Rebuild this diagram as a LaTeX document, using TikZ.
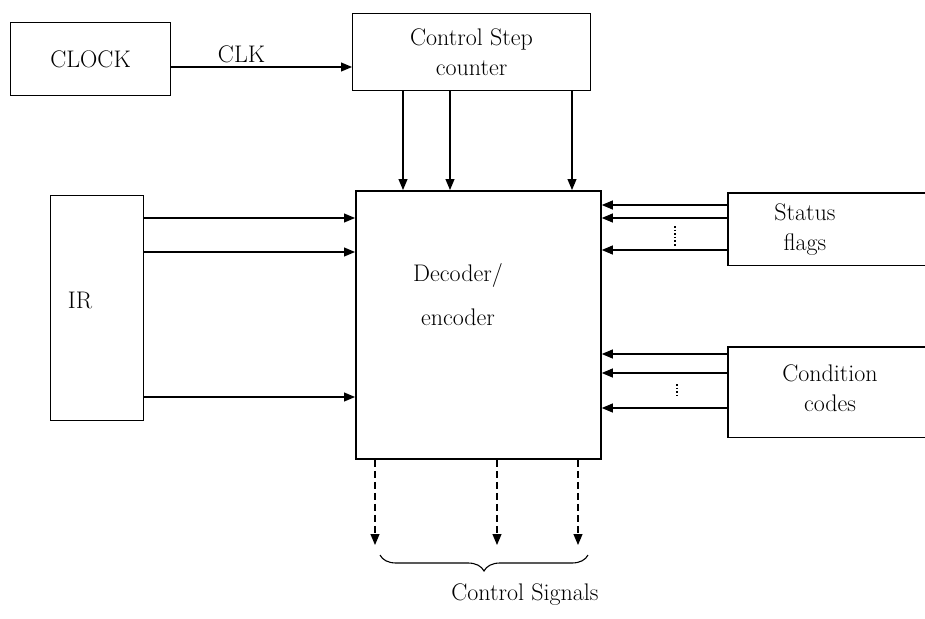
\documentclass[tikz,border=0pt]{standalone}
\usetikzlibrary{arrows.meta,decorations.pathreplacing}
\begin{document}
\begin{tikzpicture}[x=1pt,y=-1pt,
  blk/.style={draw,line width=1.1pt,inner sep=0pt,anchor=north west},
  lbl/.style={font=\fontsize{24}{30}\selectfont,align=center},
  arr/.style={-{Triangle[length=11pt,width=9pt]},line width=1.1pt},
  darr/.style={-{Triangle[length=11pt,width=9pt]},line width=1.1pt,dash pattern=on 7pt off 4pt},
  dots/.style={dotted,line width=1.6pt}]
\useasboundingbox (0,0) rectangle (925,618);
% boxes
\node[blk,minimum width=160pt,minimum height=73pt] (clock) at (10,22) {};
\node[lbl] at (clock.center) {CLOCK};
\node[blk,minimum width=238pt,minimum height=77pt] (csc) at (352,13) {};
\node[lbl] at (csc.center) {Control Step\\counter};
\node[blk,minimum width=245pt,minimum height=268pt,line width=1.8pt] (dec) at (355,190) {};
\node[lbl] at (458,295) {Decoder/\\[14pt]encoder};
\node[blk,minimum width=93pt,minimum height=225pt] (ir) at (50,195) {};
\node[lbl] at (80,300) {IR};
% open status flags box
\node[inner sep=0pt,anchor=north west,minimum width=197pt,minimum height=72pt] (sf) at (728,193) {};
\draw[line width=1.1pt] (sf.north east) -- (sf.north west) -- (sf.south west) -- (sf.south east);
\node[lbl] at (805,230) {Status\\flags};
\node[inner sep=0pt,anchor=north west,minimum width=197pt,minimum height=90pt] (cc) at (728,347) {};
\draw[line width=1.1pt] (cc.north east) -- (cc.north west) -- (cc.south west) -- (cc.south east);
\node[lbl] at (830,388) {Condition\\codes};
% clock arrow
\draw[arr] (clock.east |- 0,67) -- node[above,font=\fontsize{24}{30}\selectfont,xshift=-20pt]{CLK} (csc.west |- 0,67);
% csc to decoder
\foreach \x in {403,450,572}{
  \draw[arr] (csc.south -| \x,0) -- (dec.north -| \x,0);
}
% IR to decoder
\foreach \y in {218,252,397}{
  \draw[arr] (ir.east |- 0,\y) -- (dec.west |- 0,\y);
}
% status flags
\foreach \y in {205,218,250}{
  \draw[arr] (sf.west |- 0,\y) -- (dec.east |- 0,\y);
}
\draw[dots] (675,226) -- (675,246);
% condition codes
\foreach \y in {354,373,408}{
  \draw[arr] (cc.west |- 0,\y) -- (dec.east |- 0,\y);
}
\draw[dots] (677,384) -- (677,398);
% control signals
\coordinate (s1) at (375,545);
\coordinate (s2) at (497,545);
\coordinate (s3) at (578,545);
\draw[darr] (dec.south -| s1) -- (s1);
\draw[darr] (dec.south -| s2) -- (s2);
\draw[darr] (dec.south -| s3) -- (s3);
\coordinate (b1) at (380,555);
\coordinate (b2) at (588,555);
\draw[line width=1.1pt,decorate,decoration={brace,amplitude=16pt,aspect=0.5,mirror}] (b1) -- (b2);
\node[lbl,anchor=north] (cs) at (525,580) {Control Signals};
\end{tikzpicture}
\end{document}
